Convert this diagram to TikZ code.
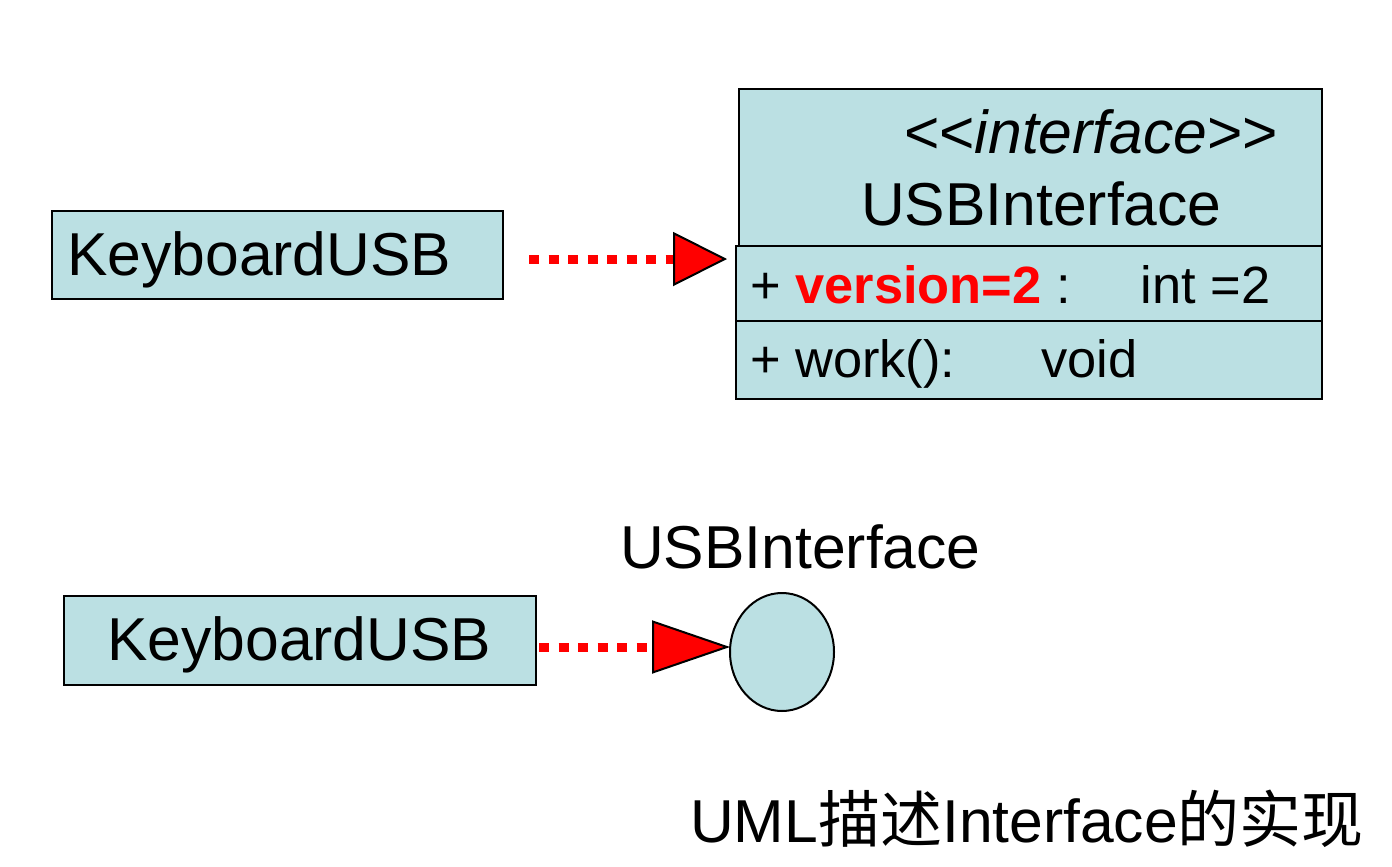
\documentclass[tikz,border=0pt]{standalone}
\usepackage{fontspec}
\setmainfont{Liberation Sans}
\newfontfamily\cjk{Noto Sans CJK SC}
\usetikzlibrary{arrows.meta,shapes.geometric}
\definecolor{boxfill}{RGB}{187,224,227}
\newcommand{\fsbig}{\fontsize{60.6}{72}\selectfont}
\newcommand{\fssmall}{\fontsize{52.4}{62}\selectfont}
\begin{document}
\begin{tikzpicture}[x=1pt,y=-1pt,
  box/.style={draw=black, line width=2.2pt, fill=boxfill, rectangle, inner sep=0pt, anchor=north west},
  txt/.style={inner sep=0pt, anchor=base west},
  dotline/.style={draw=red, line width=9pt, dash pattern=on 10pt off 9.5pt},
]
\useasboundingbox (0,0) rectangle (1392,867);
% top class
\node[box, minimum width=451pt, minimum height=88pt] (kb1) at (51,210) {};
\node[txt] (kb1t) at (67,275) {\fsbig KeyboardUSB};
% interface
\node[box, minimum width=583pt, minimum height=157pt] (ifhead) at (738,88) {};
\node[box, minimum width=586pt, minimum height=75pt] (ifattr) at (735,245) {};
\node[box, minimum width=586pt, minimum height=78pt] (ifmeth) at (735,320) {};
\node[txt] (ster) at (904,153) {\fsbig <{}<\textit{interface}>{}>};
\node[txt] (ifname) at (861,225) {\fsbig USBInterface};
\node[txt] (attr) at (750,303) {\fssmall + \textcolor{red}{\bfseries version=2} :\hspace{70pt}int =2};
\node[txt] (meth) at (750,377) {\fssmall + work():\hspace{86pt}void};
\coordinate (t1) at (727,259);
\draw[dotline, shorten <=25pt, -{Triangle[length=54pt,width=54pt,fill=red,color=black,line width=2pt]}] (kb1.east |- t1) -- (t1);
% bottom
\node[box, minimum width=472pt, minimum height=89pt] (kb2) at (63,595) {};
\node[txt] (kb2t) at (107,660) {\fsbig KeyboardUSB};
\node[ellipse, draw=black, line width=2pt, fill=boxfill, minimum width=104pt, minimum height=118pt, inner sep=0pt] (circ) at (782,652) {};
\node[txt] (lollabel) at (620,568) {\fsbig USBInterface};
\coordinate (t2) at (730,647);
\draw[dotline, shorten <=2pt, -{Triangle[length=78pt,width=53pt,fill=red,color=black,line width=2pt]}] (kb2.east |- t2) -- (t2);
\node[txt] (caption) at (690,842) {\fsbig UML{\cjk\fontsize{62}{72}\selectfont 描述}Interface{\cjk\fontsize{62}{72}\selectfont 的实现}};
\end{tikzpicture}
\end{document}
